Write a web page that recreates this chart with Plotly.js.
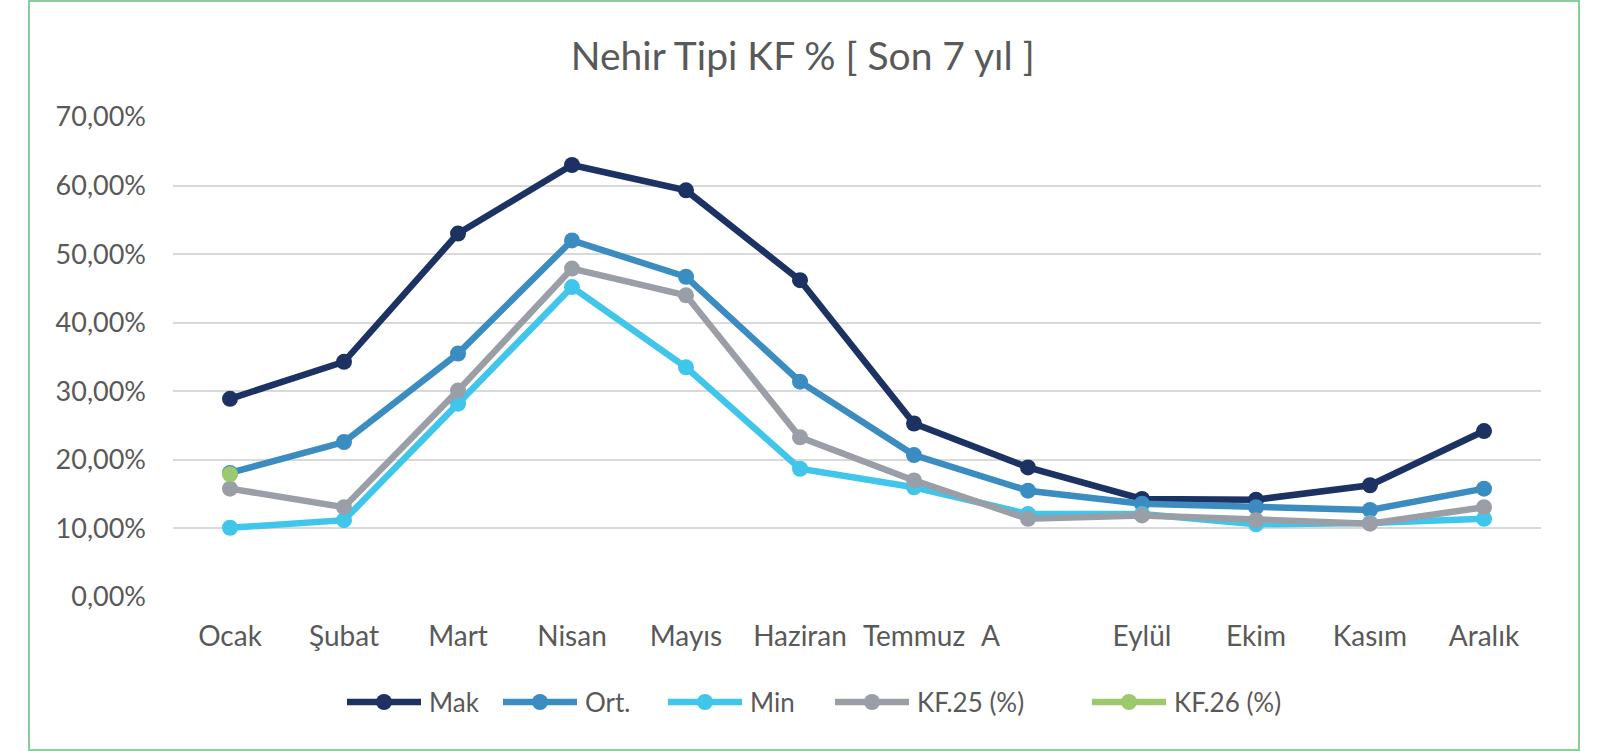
<!DOCTYPE html>
<html>
<head>
<meta charset="utf-8">
<script src="https://cdn.plot.ly/plotly-3.0.1.min.js"></script>
<style>
  html, body { margin: 0; padding: 0; background: #ffffff; }
  #wrap { position: relative; width: 1599px; height: 751px; }
  #chart { position: absolute; left: 0; top: 0; width: 1599px; height: 751px; }
  #frame { position: absolute; left: 28px; top: 0px; width: 1548px; height: 747px;
           border: 2px solid #8CCB9E; pointer-events: none; }
</style>
</head>
<body>
<div id="wrap">
  <div id="chart"></div>
  <div id="frame"></div>
</div>
<script>
const months = ["Ocak", "Şubat", "Mart", "Nisan", "Mayıs", "Haziran", "Temmuz", "Ağustos", "Eylül", "Ekim", "Kasım", "Aralık"];
const tickLabels = ["Ocak", "Şubat", "Mart", "Nisan", "Mayıs", "Haziran", "Temmuz", "", "Eylül", "Ekim", "Kasım", "Aralık"];
const truncatedLabel = "A";

const mak  = [0.289, 0.343, 0.530, 0.630, 0.593, 0.462, 0.253, 0.189, 0.143, 0.142, 0.163, 0.242];
const ort  = [0.181, 0.226, 0.355, 0.520, 0.467, 0.314, 0.207, 0.155, 0.136, 0.131, 0.127, 0.158];
const minV = [0.101, 0.112, 0.282, 0.452, 0.335, 0.187, 0.160, 0.121, 0.121, 0.106, 0.108, 0.114];
const kf25 = [0.158, 0.131, 0.301, 0.479, 0.440, 0.233, 0.170, 0.114, 0.119, 0.112, 0.107, 0.131];
const kf26 = [0.179, null, null, null, null, null, null, null, null, null, null, null];

const seriesNames = ["Mak", "Ort.", "Min", "KF.25 (%)", "KF.26 (%)"];
const seriesColors = ["#1B3262", "#3B8CC0", "#3FC6EA", "#9A9FA7", "#9BC96B"];
const seriesData = [mak, ort, minV, kf25, kf26];

const FONT = "Lato, 'Open Sans', sans-serif";
const TEXT = "#595959";
const LINE_W = 6.5;
const MARKER = 16;

// plot area geometry (pixels)
const W = 1599, H = 751;
const M = { l: 173, r: 58, t: 117, b: 154 };
const plotW = W - M.l - M.r, plotH = H - M.t - M.b;
const px2paperX = px => (px - M.l) / plotW;
const px2paperY = py => (H - M.b - py) / plotH;

const traces = seriesData.map((d, i) => ({
  type: "scatter",
  mode: "lines+markers",
  name: seriesNames[i],
  x: months,
  y: d,
  line: { color: seriesColors[i], width: LINE_W },
  marker: { color: seriesColors[i], size: MARKER },
  showlegend: false,
  hoverinfo: "skip"
}));

// custom legend (long line symbols like the original); item start positions in px
const LEG_FONT_SIZE = 26;
const legendStarts = [347, 503, 668, 835, 1092];
const lineLen = 74, gapLT = 6, legY = 702;
const shapes = [], annotations = [];
seriesNames.forEach((n, i) => {
  const cur = legendStarts[i];
  const yP = px2paperY(legY);
  shapes.push({
    type: "line", xref: "paper", yref: "paper",
    x0: px2paperX(cur), x1: px2paperX(cur + lineLen), y0: yP, y1: yP,
    line: { color: seriesColors[i], width: LINE_W }
  });
  shapes.push({
    type: "circle", xref: "paper", yref: "paper",
    xsizemode: "pixel", ysizemode: "pixel",
    xanchor: px2paperX(cur + lineLen / 2), yanchor: yP,
    x0: -MARKER / 2, x1: MARKER / 2, y0: -MARKER / 2, y1: MARKER / 2,
    fillcolor: seriesColors[i], line: { width: 0 }
  });
  annotations.push({
    xref: "paper", yref: "paper",
    x: px2paperX(cur + lineLen + gapLT), xanchor: "left",
    y: yP, yanchor: "middle",
    text: n, showarrow: false,
    font: { family: FONT, size: LEG_FONT_SIZE, color: TEXT }
  });
});

annotations.push({
  x: "Ağustos", xref: "x",
  y: 0, yref: "y",
  yanchor: "top",
  yshift: -19,
  xshift: -38,
  text: truncatedLabel,
  showarrow: false,
  font: { family: FONT, size: 28, color: TEXT }
});

const layout = {
  width: W,
  height: H,
  paper_bgcolor: "rgba(0,0,0,0)",
  plot_bgcolor: "rgba(0,0,0,0)",
  margin: M,
  separators: ",.",
  showlegend: false,
  title: {
    text: "Nehir Tipi KF % [ Son 7 yıl ]",
    font: { family: FONT, size: 39, color: TEXT },
    x: 0.502, xanchor: "center",
    y: 1 - 56 / 751, yanchor: "middle", yref: "container"
  },
  xaxis: {
    type: "category",
    categoryorder: "array",
    categoryarray: months,
    range: [-0.5, 11.5],
    tickmode: "array",
    tickvals: months,
    ticktext: tickLabels,
    showgrid: false,
    zeroline: false,
    showline: false,
    ticks: "",
    tickfont: { family: FONT, size: 28, color: TEXT },
    ticklabelstandoff: 20,
    fixedrange: true
  },
  yaxis: {
    range: [0, 0.7],
    dtick: 0.1,
    tick0: 0,
    tickformat: ".2%",
    showgrid: true,
    gridcolor: "#D9D9D9",
    gridwidth: 2,
    zeroline: false,
    showline: false,
    ticks: "",
    tickfont: { family: FONT, size: 27, color: TEXT },
    ticklabelstandoff: 26,
    fixedrange: true
  },
  shapes: shapes,
  annotations: annotations,
  hovermode: false
};

Plotly.newPlot("chart", traces, layout, { displayModeBar: false, staticPlot: true });
</script>
</body>
</html>
